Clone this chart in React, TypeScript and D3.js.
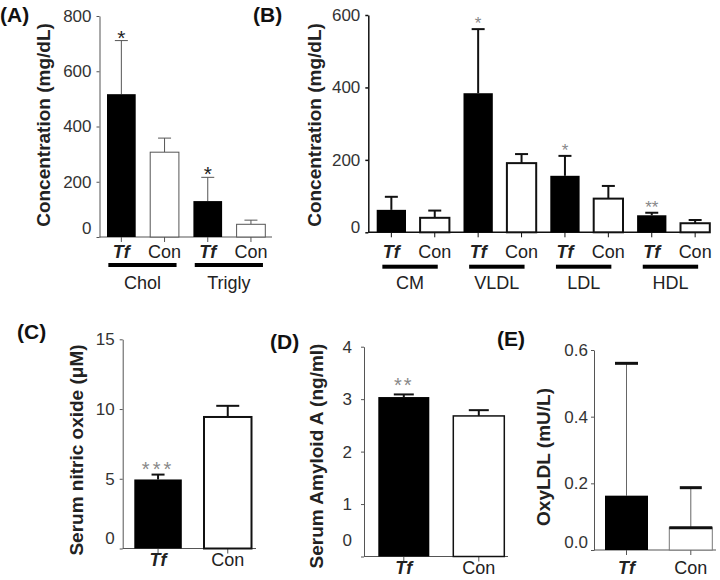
import React, { useEffect, useRef } from "react";
import * as d3 from "d3";

// ---------- Data ----------
// Panel A: total cholesterol & triglycerides
const aLabels = ["Tf", "Con", "Tf", "Con"];
const aGroups = ["Chol", "Trigly"];
const aMeans = [517, 307, 130, 46];
const aErrors = [194, 51, 86, 15];
const aStars = ["*", "", "*", ""];
const aTicks = [0, 200, 400, 600, 800];

// Panel B: lipoprotein fractions
const bLabels = ["Tf", "Con", "Tf", "Con", "Tf", "Con", "Tf", "Con"];
const bGroups = ["CM", "VLDL", "LDL", "HDL"];
const bMeans = [62, 40, 384, 191, 156, 93, 47, 25];
const bErrors = [36, 20, 177, 25, 55, 35, 7, 9];
const bStars = ["", "", "*", "", "*", "", "**", ""];
const bTicks = [0, 200, 400, 600];

// Panel C: serum nitric oxide
const cLabels = ["Tf", "Con"];
const cMeans = [4.95, 9.43];
const cErrors = [0.35, 0.8];
const cStars = ["***", ""];
const cTicks = [0, 5, 10, 15];

// Panel D: serum amyloid A
const dLabels = ["Tf", "Con"];
const dMeans = [3.04, 2.68];
const dErrors = [0.05, 0.11];
const dStars = ["**", ""];
const dTicks = [0, 1, 2, 3, 4];

// Panel E: OxyLDL
const eLabels = ["Tf", "Con"];
const eMeans = [0.163, 0.067];
const eErrors = [0.397, 0.12];
const eStars = ["", ""];
const eTicks = [0, 0.2, 0.4, 0.6];

const FONT = "'Liberation Sans', Arial, sans-serif";

type Data = {
  labels: string[];
  groups: string[];
  means: number[];
  errors: number[];
  stars: string[];
  ticks: number[];
};

type Cfg = {
  axisX: number; top: number; base: number; yMax: number;
  barStart: number; step: number; barW: number; axisEnd: number;
  labelBaseline: number; underlineY?: number; groupBaseline?: number;
  underL?: number; underR?: number;
  tickPad: number; fmt: (d: number) => string;
  axisColor: string; axisW: number;
  errColor: string; errW: number; capColor: string; capW: number; capWidth: number[];
  whiteStroke: string; whiteW: number; whiteTop?: number;
  starColor: string; starSize: number; starOffset: number; starSpacing: number;
  title: string; titleX: number; titleY: number;
  letter: string; letterX: number; letterY: number;
  zeroLift: number;
};

function drawPanel(svg: d3.Selection<SVGSVGElement, unknown, null, undefined>, cfg: Cfg, data: Data) {
  const g = svg.append("g");
  const n = data.means.length;
  const y = d3.scaleLinear().domain([0, cfg.yMax]).range([cfg.base, cfg.top]);
  const x = d3
    .scaleBand<string>()
    .domain(d3.range(n).map(String))
    .range([cfg.barStart, cfg.barStart + (n - 1) * cfg.step + cfg.barW])
    .paddingInner(1 - cfg.barW / cfg.step)
    .paddingOuter(0);
  const cx = (i: number) => (x(String(i)) as number) + x.bandwidth() / 2;

  // y axis
  const ya = g
    .append("g")
    .attr("transform", `translate(${cfg.axisX},0)`)
    .call(
      d3.axisLeft(y).tickValues(data.ticks).tickSize(3).tickSizeOuter(0).tickPadding(cfg.tickPad).tickFormat(cfg.fmt as any)
    );
  ya.selectAll("path,line").attr("stroke", cfg.axisColor).attr("stroke-width", cfg.axisW);
  ya.selectAll("text")
    .attr("font-family", FONT)
    .attr("font-size", 17)
    .attr("fill", "#333")
    .attr("dy", (d: any) => (d === 0 ? `${0.32 - cfg.zeroLift / 17}em` : "0.32em"));

  // x axis line
  g.append("line")
    .attr("x1", cfg.axisX).attr("x2", cfg.axisEnd)
    .attr("y1", cfg.base).attr("y2", cfg.base)
    .attr("stroke", cfg.axisColor).attr("stroke-width", cfg.axisW);
  // x tick marks
  g.selectAll(".xt")
    .data(data.means)
    .enter()
    .append("line")
    .attr("x1", (_d, i) => cx(i)).attr("x2", (_d, i) => cx(i))
    .attr("y1", cfg.base).attr("y2", cfg.base + 5)
    .attr("stroke", cfg.axisColor).attr("stroke-width", 1);

  // error bars (upper)
  data.means.forEach((m, i) => {
    const c = cx(i);
    const yt = y(m + data.errors[i]);
    g.append("line")
      .attr("x1", c).attr("x2", c).attr("y1", y(m)).attr("y2", yt)
      .attr("stroke", cfg.errColor).attr("stroke-width", cfg.errW);
    const cw = cfg.capWidth[i];
    g.append("line")
      .attr("x1", c - cw / 2).attr("x2", c + cw / 2).attr("y1", yt).attr("y2", yt)
      .attr("stroke", cfg.capColor).attr("stroke-width", cfg.capW);
    if (data.stars[i]) {
      g.append("text")
        .attr("x", c).attr("y", yt + cfg.starOffset)
        .attr("text-anchor", "middle")
        .attr("font-family", FONT)
        .attr("font-size", cfg.starSize)
        .attr("letter-spacing", cfg.starSpacing)
        .attr("fill", cfg.starColor)
        .text(data.stars[i]);
    }
  });

  // bars
  data.means.forEach((m, i) => {
    const isTf = data.labels[i] === "Tf";
    const bx = x(String(i)) as number;
    const bw = x.bandwidth();
    g.append("rect")
      .attr("x", bx).attr("y", y(m)).attr("width", bw).attr("height", cfg.base - y(m))
      .attr("fill", isTf ? "#000" : "#fff")
      .attr("stroke", isTf ? "#000" : cfg.whiteStroke)
      .attr("stroke-width", isTf ? 0 : cfg.whiteW);
    if (!isTf && cfg.whiteTop) {
      g.append("line")
        .attr("x1", bx).attr("x2", bx + bw).attr("y1", y(m)).attr("y2", y(m))
        .attr("stroke", "#111").attr("stroke-width", cfg.whiteTop);
    }
  });

  // category labels
  data.labels.forEach((lab, i) => {
    const isTf = lab === "Tf";
    g.append("text")
      .attr("x", cx(i)).attr("y", cfg.labelBaseline)
      .attr("text-anchor", "middle")
      .attr("font-family", FONT)
      .attr("font-size", 18)
      .attr("font-style", isTf ? "italic" : "normal")
      .attr("font-weight", isTf ? "bold" : "normal")
      .attr("fill", "#222")
      .text(lab);
  });

  // group underlines & labels
  data.groups.forEach((grp, k) => {
    const x1 = cx(2 * k) - (cfg.underL || 0);
    const x2 = cx(2 * k + 1) + (cfg.underR || 0);
    g.append("rect")
      .attr("x", x1).attr("y", (cfg.underlineY as number) - 2)
      .attr("width", x2 - x1).attr("height", 4).attr("fill", "#000");
    g.append("text")
      .attr("x", (x1 + x2) / 2).attr("y", cfg.groupBaseline as number)
      .attr("text-anchor", "middle")
      .attr("font-family", FONT).attr("font-size", 18).attr("fill", "#222")
      .text(grp);
  });

  // y title
  g.append("text")
    .attr("transform", `translate(${cfg.titleX},${cfg.titleY}) rotate(-90)`)
    .attr("text-anchor", "middle")
    .attr("font-family", FONT).attr("font-size", 19).attr("font-weight", "bold").attr("fill", "#222")
    .text(cfg.title);

  // panel letter
  g.append("text")
    .attr("x", cfg.letterX).attr("y", cfg.letterY)
    .attr("font-family", FONT).attr("font-size", 21).attr("font-weight", "bold").attr("fill", "#111")
    .text(cfg.letter);
}

const intFmt = d3.format("d");

export default function App() {
  const ref = useRef<SVGSVGElement | null>(null);
  useEffect(() => {
    if (!ref.current) return;
    const svg = d3.select(ref.current);
    svg.selectAll("*").remove();

    drawPanel(svg, {
      axisX: 99.5, top: 16, base: 237, yMax: 800,
      barStart: 107, step: 43.2, barW: 28.7, axisEnd: 272,
      labelBaseline: 258, underlineY: 265, groupBaseline: 289, underL: 13, underR: 12,
      tickPad: 5, fmt: intFmt,
      axisColor: "#555", axisW: 1,
      errColor: "#555", errW: 1, capColor: "#555", capW: 1, capWidth: [13, 13, 13, 13],
      whiteStroke: "#555", whiteW: 1,
      starColor: "#222", starSize: 21, starOffset: 4, starSpacing: 0,
      title: "Concentration (mg/dL)", titleX: 50, titleY: 125,
      letter: "(A)", letterX: 0, letterY: 22, zeroLift: 9,
    }, { labels: aLabels, groups: aGroups, means: aMeans, errors: aErrors, stars: aStars, ticks: aTicks });

    drawPanel(svg, {
      axisX: 368.3, top: 15, base: 232.3, yMax: 600,
      barStart: 376.7, step: 43.4, barW: 29.3, axisEnd: 710,
      labelBaseline: 258, underlineY: 266.7, groupBaseline: 289, underL: 9, underR: 3,
      tickPad: 5, fmt: intFmt,
      axisColor: "#111", axisW: 1.5,
      errColor: "#111", errW: 2, capColor: "#111", capW: 2, capWidth: [13, 13, 13, 13, 13, 13, 13, 13],
      whiteStroke: "#111", whiteW: 2,
      starColor: "#888", starSize: 17, starOffset: 0, starSpacing: 0,
      title: "Concentration (mg/dL)", titleX: 321, titleY: 125,
      letter: "(B)", letterX: 253, letterY: 22, zeroLift: 5,
    }, { labels: bLabels, groups: bGroups, means: bMeans, errors: bErrors, stars: bStars, ticks: bTicks });

    drawPanel(svg, {
      axisX: 122.7, top: 339.3, base: 548.5, yMax: 15,
      barStart: 134.3, step: 69.7, barW: 47.5, axisEnd: 256,
      labelBaseline: 566,
      tickPad: 5, fmt: intFmt,
      axisColor: "#555", axisW: 1,
      errColor: "#111", errW: 2, capColor: "#111", capW: 2, capWidth: [13, 23],
      whiteStroke: "#111", whiteW: 2,
      starColor: "#888", starSize: 20, starOffset: 1, starSpacing: 3,
      title: "Serum nitric oxide (\u03BCM)", titleX: 83, titleY: 450,
      letter: "(C)", letterX: 17, letterY: 339, zeroLift: 10,
    }, { labels: cLabels, groups: [], means: cMeans, errors: cErrors, stars: cStars, ticks: cTicks });

    drawPanel(svg, {
      axisX: 364, top: 346.7, base: 556.5, yMax: 4,
      barStart: 378.3, step: 75, barW: 51, axisEnd: 508,
      labelBaseline: 574,
      tickPad: 9, fmt: intFmt,
      axisColor: "#555", axisW: 1,
      errColor: "#111", errW: 2, capColor: "#111", capW: 2, capWidth: [20, 20],
      whiteStroke: "#111", whiteW: 1.5,
      starColor: "#888", starSize: 20, starOffset: -2, starSpacing: 2,
      title: "Serum Amyloid A (ng/ml)", titleX: 323, titleY: 456,
      letter: "(D)", letterX: 270, letterY: 349, zeroLift: 16,
    }, { labels: dLabels, groups: [], means: dMeans, errors: dErrors, stars: dStars, ticks: dTicks });

    drawPanel(svg, {
      axisX: 594, top: 350, base: 550, yMax: 0.6,
      barStart: 605, step: 64.3, barW: 43, axisEnd: 716,
      labelBaseline: 574,
      tickPad: 3, fmt: d3.format(".1f"),
      axisColor: "#555", axisW: 1,
      errColor: "#666", errW: 1, capColor: "#111", capW: 3, capWidth: [23, 22],
      whiteStroke: "#777", whiteW: 1, whiteTop: 3,
      starColor: "#888", starSize: 17, starOffset: -1, starSpacing: 0,
      title: "OxyLDL (mU/L)", titleX: 550, titleY: 457,
      letter: "(E)", letterX: 497, letterY: 346, zeroLift: 8,
    }, { labels: eLabels, groups: [], means: eMeans, errors: eErrors, stars: eStars, ticks: eTicks });
  }, []);

  return (
    <svg
      ref={ref}
      width={720}
      height={580}
      style={{ position: "absolute", left: 0, top: 0, background: "#fff", display: "block" }}
    />
  );
}
